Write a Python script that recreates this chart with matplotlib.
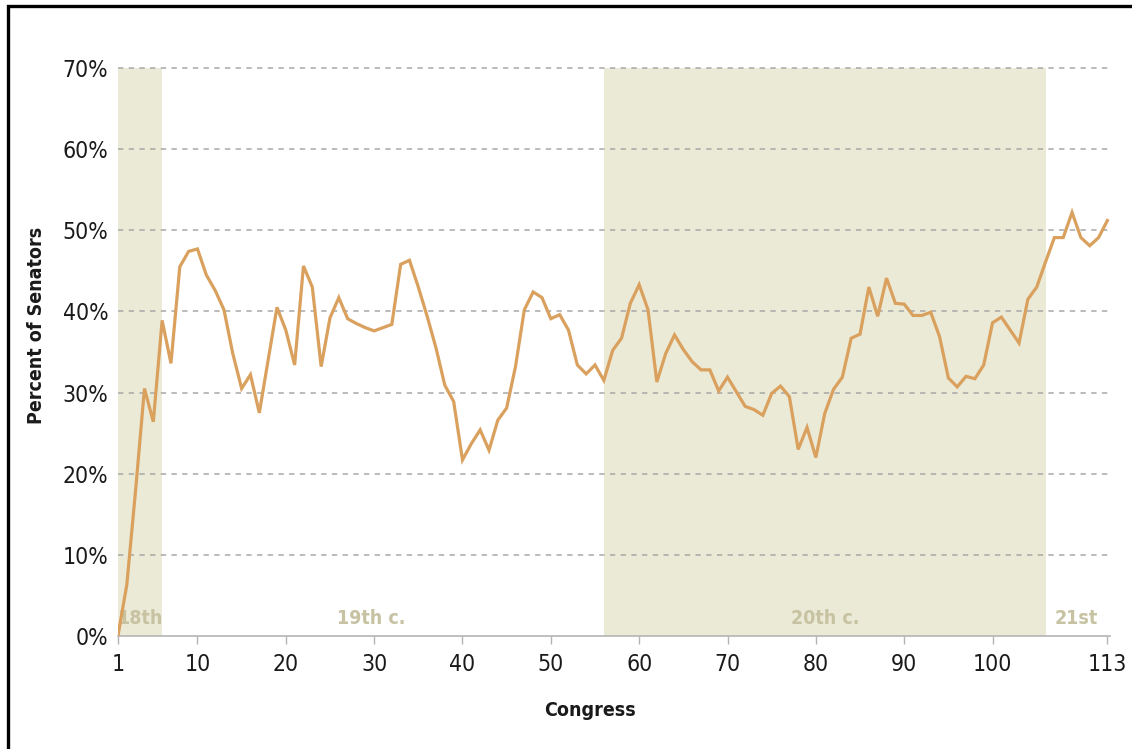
import matplotlib
matplotlib.use("Agg")
import matplotlib.pyplot as plt
from matplotlib.patches import Rectangle
import numpy as np

plt.rcParams['font.family'] = ['DejaVu Sans']
plt.rcParams['font.stretch'] = 'condensed'

# percent of senators, congress 1..113
congress = np.arange(1, 114)
pct = [
    0.0, 6.3, 18.0, 30.5, 26.4, 38.9, 33.6, 45.5, 47.4, 47.7,
    44.5, 42.6, 40.2, 34.8, 30.5, 32.2, 27.5, 34.0, 40.5, 37.7,
    33.4, 45.6, 43.0, 33.2, 39.2, 41.7, 39.1, 38.5, 38.0, 37.6,
    38.0, 38.4, 45.8, 46.3, 43.0, 39.4, 35.5, 30.9, 28.9, 21.7,
    23.7, 25.4, 22.9, 26.6, 28.1, 33.2, 40.2, 42.4, 41.7, 39.1,
    39.6, 37.7, 33.4, 32.3, 33.4, 31.5, 35.2, 36.7, 41.0, 43.3,
    40.2, 31.3, 34.8, 37.1, 35.3, 33.8, 32.8, 32.8, 30.2, 31.9,
    30.1, 28.3, 27.9, 27.2, 29.9, 30.8, 29.5, 23.0, 25.7, 22.0,
    27.4, 30.4, 31.9, 36.7, 37.2, 43.0, 39.4, 44.1, 41.0, 40.9,
    39.5, 39.5, 39.9, 36.9, 31.8, 30.7, 32.0, 31.7, 33.4, 38.6,
    39.3, 37.7, 36.1, 41.5, 43.0, 46.1, 49.1, 49.1, 52.2, 49.1,
    48.1, 49.1, 51.2,
]

# century bands (congress ranges) and labels
bands = [(1, 6), (56, 106)]
century_labels = ["18th", "19th c.", "20th c.", "21st"]
century_pos = [3.5, 29.7, 81, 109.5]

xticks = [1, 10, 20, 30, 40, 50, 60, 70, 80, 90, 100, 113]
yticks = [0, 10, 20, 30, 40, 50, 60, 70]

line_color = "#d9a05e"
band_color = "#ebead6"
label_color = "#c6c2a2"
text_color = "#1a1a1a"

fig = plt.figure(figsize=(11.32, 7.49), dpi=100)
ax = fig.add_axes([0.1042, 0.1509, 0.8764, 0.7583])

for a, b in bands:
    ax.axvspan(a, b, color=band_color, lw=0, zorder=0)

for y in yticks[1:]:
    ax.axhline(y, color="#a8a8a8", lw=1.1, ls=(0, (3.5, 3.5)), zorder=1,
               clip_on=False)

ax.plot(congress, pct, color=line_color, lw=2.3, zorder=3, solid_joinstyle="miter")

for t, xp in zip(century_labels, century_pos):
    ax.text(xp, 2.1, t, ha="center", va="center", fontsize=14,
            fontweight="bold", color=label_color, zorder=2)

ax.set_xlim(1, 113.3)
ax.set_ylim(0, 70)
ax.set_xticks(xticks)
ax.set_yticks(yticks)
ax.set_yticklabels([f"{v}%" for v in yticks])

for s in ["top", "right", "left"]:
    ax.spines[s].set_visible(False)
ax.spines["bottom"].set_color("#b4b4b4")
ax.spines["bottom"].set_linewidth(1.2)

ax.tick_params(axis="x", length=6, width=1, color="#b4b4b4", pad=6,
               labelsize=16.5, labelcolor=text_color)
ax.tick_params(axis="y", length=0, pad=7, labelsize=16.5, labelcolor=text_color)

fig.text(37 / 1132, 1 - 325 / 749, "Percent of Senators", rotation=90,
         ha="center", va="center", fontsize=14, fontweight="bold", color=text_color)
fig.text(590 / 1132, 1 - 710 / 749, "Congress", ha="center", va="center",
         fontsize=14, fontweight="bold", color=text_color)

# black frame, only top and left edges fall inside the picture
fig.patches.append(Rectangle((8 / 1132, -0.5), 2, 1.5 - 6 / 749, fill=False,
                             edgecolor="black", lw=2.4, transform=fig.transFigure,
                             figure=fig))

fig.savefig("out.png", dpi=100)
